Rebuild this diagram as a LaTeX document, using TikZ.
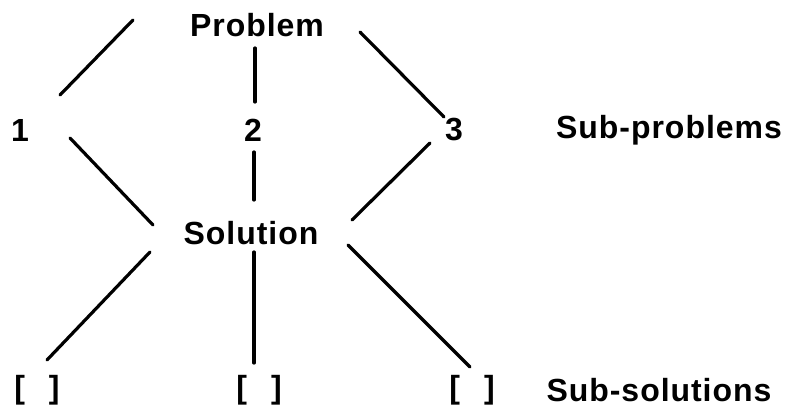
\documentclass[tikz,border=0pt]{standalone}
\usepackage{fontspec}
\newfontfamily\treefont{Liberation Sans}[LetterSpace=3]
\usetikzlibrary{positioning}

\begin{document}
\begin{tikzpicture}[x=1pt, y=-1pt,
  lbl/.style={inner sep=0pt, font=\treefont\bfseries\fontsize{32}{38}\selectfont},
  link/.style={line width=3.2pt, line cap=round}]
  \useasboundingbox (0,0) rectangle (788,410);
  % labels
  \node[lbl] (prob) at (257,25) {Problem};
  \node[lbl] (one) at (20,130) {1};
  \node[lbl] (two) at (253,130) {2};
  \node[lbl] (three) at (454,130) {3};
  \node[lbl] (subp) at (669,130) {Sub-problems};
  \node[lbl] (sol) at (251,233) {Solution};
  \node[lbl] (sa) at (37,390) {[\hspace{24pt}]};
  \node[lbl] (sb) at (259,390) {[\hspace{24pt}]};
  \node[lbl] (sc) at (472,390) {[\hspace{24pt}]};
  \node[lbl] (subs) at (659,390) {Sub-solutions};
  % problem to sub-problems
  \draw[link] ([shift={(-124,-5)}]prob.center) -- ([shift={(40,-35)}]one.center);
  \draw[link] ([shift={(-2,23)}]prob.center) -- ([shift={(2,-28)}]two.center);
  \draw[link] ([shift={(103,7)}]prob.center) -- ([shift={(-10,-13)}]three.center);
  % sub-problems to solution
  \draw[link] ([shift={(50,8)}]one.center) -- ([shift={(-98,-8)}]sol.center);
  \draw[link] ([shift={(1,22)}]two.center) -- ([shift={(3,-33)}]sol.center);
  \draw[link] ([shift={(-24,13)}]three.center) -- ([shift={(101,-13)}]sol.center);
  % solution to sub-solutions
  \draw[link] ([shift={(-101,19)}]sol.center) -- ([shift={(10,-30)}]sa.center);
  \draw[link] ([shift={(3,19)}]sol.center) -- ([shift={(-5,-27)}]sb.center);
  \draw[link] ([shift={(97,12)}]sol.center) -- ([shift={(-2,-23)}]sc.center);
\end{tikzpicture}
\end{document}
